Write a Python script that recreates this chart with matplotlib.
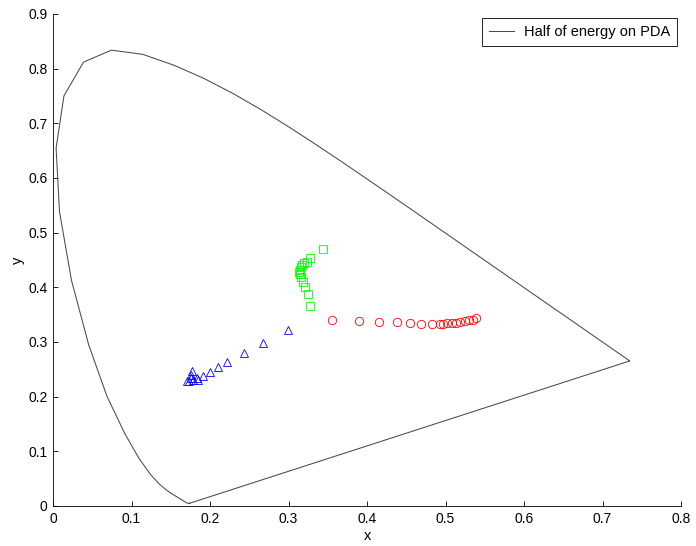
import matplotlib
matplotlib.use("Agg")
import matplotlib.pyplot as plt

# CIE 1931 spectral locus, 380-700 nm in 5 nm steps
locus_x = [0.1741, 0.1740, 0.1738, 0.1736, 0.1733, 0.1730, 0.1726, 0.1721, 0.1714, 0.1703,
           0.1689, 0.1669, 0.1644, 0.1611, 0.1566, 0.1510, 0.1440, 0.1355, 0.1241, 0.1096,
           0.0913, 0.0687, 0.0454, 0.0235, 0.0082, 0.0039, 0.0139, 0.0389, 0.0743, 0.1142,
           0.1547, 0.1929, 0.2296, 0.2658, 0.3016, 0.3373, 0.3731, 0.4087, 0.4441, 0.4788,
           0.5125, 0.5448, 0.5752, 0.6029, 0.6270, 0.6482, 0.6658, 0.6801, 0.6915, 0.7006,
           0.7079, 0.7140, 0.7190, 0.7230, 0.7260, 0.7283, 0.7300, 0.7311, 0.7320, 0.7327,
           0.7334, 0.7340, 0.7344, 0.7346, 0.7347, 0.1741]
locus_y = [0.0050, 0.0050, 0.0049, 0.0049, 0.0048, 0.0048, 0.0048, 0.0048, 0.0051, 0.0058,
           0.0069, 0.0086, 0.0109, 0.0138, 0.0177, 0.0227, 0.0297, 0.0399, 0.0578, 0.0868,
           0.1327, 0.2007, 0.2950, 0.4127, 0.5384, 0.6548, 0.7502, 0.8120, 0.8338, 0.8262,
           0.8059, 0.7816, 0.7543, 0.7243, 0.6923, 0.6589, 0.6245, 0.5896, 0.5547, 0.5202,
           0.4866, 0.4544, 0.4242, 0.3965, 0.3725, 0.3514, 0.3340, 0.3197, 0.3083, 0.2993,
           0.2920, 0.2859, 0.2809, 0.2770, 0.2740, 0.2717, 0.2700, 0.2689, 0.2680, 0.2673,
           0.2666, 0.2660, 0.2656, 0.2654, 0.2653, 0.0050]

red_x = [0.3558, 0.3898, 0.4153, 0.4386, 0.4548, 0.4692, 0.4824, 0.4930, 0.4972, 0.5023,
         0.5083, 0.5134, 0.5185, 0.5252, 0.5303, 0.5346, 0.5389]
red_y = [0.3402, 0.3390, 0.3371, 0.3360, 0.3347, 0.3335, 0.3335, 0.3335, 0.3335, 0.3342,
         0.3353, 0.3353, 0.3360, 0.3384, 0.3397, 0.3408, 0.3433]

green_x = [0.3436, 0.3278, 0.3240, 0.3202, 0.3172, 0.3155, 0.3146, 0.3138, 0.3146, 0.3155,
           0.3180, 0.3206, 0.3248, 0.3274]
green_y = [0.4695, 0.4542, 0.4469, 0.4439, 0.4408, 0.4366, 0.4317, 0.4286, 0.4244, 0.4194,
           0.4103, 0.4011, 0.3872, 0.3658]

blue_x = [0.2994, 0.2671, 0.2429, 0.2221, 0.2106, 0.2000, 0.1907, 0.1830, 0.1850, 0.1788,
          0.1770, 0.1760, 0.1754, 0.1736, 0.1710]
blue_y = [0.3219, 0.2988, 0.2793, 0.2628, 0.2537, 0.2445, 0.2378, 0.2336, 0.2305, 0.2305,
          0.2475, 0.2396, 0.2336, 0.2292, 0.2287]

plt.rcParams['font.family'] = ['Liberation Sans', 'DejaVu Sans']

fig = plt.figure(figsize=(6.96, 5.46), dpi=100)
ax = fig.add_axes([0.0762, 0.0733, 0.9023, 0.9011])

ax.plot(locus_x, locus_y, color='#4a4a4a', lw=0.75, label='Half of energy on PDA')
ax.plot(red_x, red_y, 'o', ms=6, mfc='none', mec='red', mew=0.6)
ax.plot(green_x, green_y, 's', ms=5.5, mfc='none', mec='#00ff00', mew=0.6)
ax.plot(blue_x, blue_y, '^', ms=6, mfc='none', mec='blue', mew=0.6)

ax.set_xlim(0, 0.8)
ax.set_ylim(0, 0.9)
ax.set_xticks([i / 10 for i in range(9)])
ax.set_yticks([i / 10 for i in range(10)])
ax.set_xticklabels(['0', '0.1', '0.2', '0.3', '0.4', '0.5', '0.6', '0.7', '0.8'])
ax.set_yticklabels(['0', '0.1', '0.2', '0.3', '0.4', '0.5', '0.6', '0.7', '0.8', '0.9'])
ax.tick_params(direction='in', length=3.6, width=0.6, labelsize=10)
ax.tick_params(axis='x', pad=4.5)
ax.tick_params(axis='y', pad=4)
ax.spines['top'].set_visible(False)
ax.spines['right'].set_visible(False)
for s in ('left', 'bottom'):
    ax.spines[s].set_linewidth(0.6)
ax.set_xlabel('x', fontsize=10.5, labelpad=2)
ax.set_ylabel('y', fontsize=10.5, labelpad=2)

leg = ax.legend(loc='upper right', fontsize=10.5, fancybox=False, edgecolor='black',
                framealpha=1, borderaxespad=0.25, handlelength=1.7,
                handletextpad=0.7, borderpad=0.5)
leg.get_frame().set_linewidth(0.6)

fig.savefig('out.png', dpi=100)
